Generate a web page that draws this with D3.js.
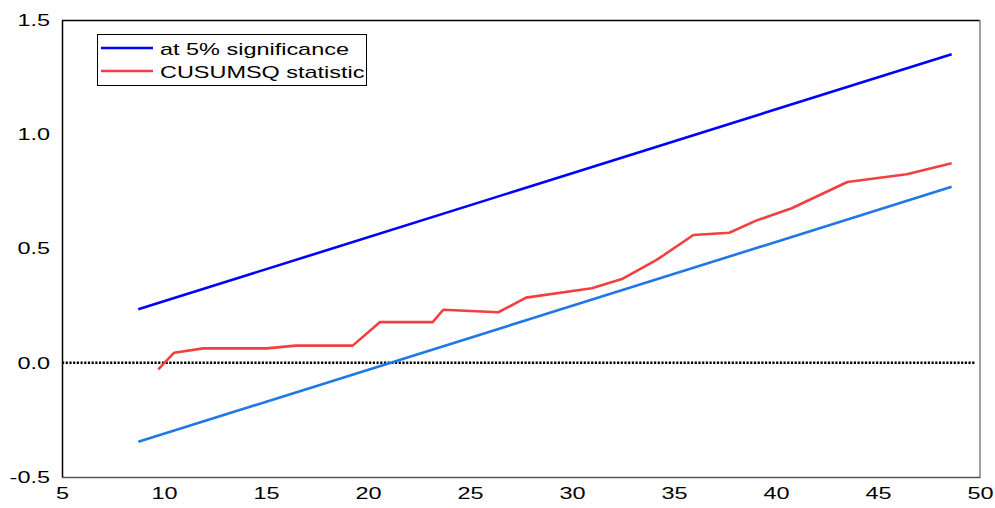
<!DOCTYPE html>
<html><head><meta charset="utf-8">
<script src="https://cdn.jsdelivr.net/npm/d3@7"></script>
<style>body{margin:0;background:#fff;}svg{display:block;}</style>
</head><body>
<svg id="c" width="995" height="508"></svg>
<script>
const xTicks = [5,10,15,20,25,30,35,40,45,50];
const yTicks = [-0.5,0.0,0.5,1.0,1.5];
const boundX = [8.74, 48.61];
const upperBound = [0.234, 1.350];
const lowerBound = [-0.346, 0.770];
const cusumX = [9.72,10.50,11.93,15.03,16.46,19.25,20.59,23.17,23.69,26.39,27.75,30.97,32.49,34.15,35.95,37.71,39.05,40.77,43.50,46.41,48.61];
const cusumY = [-0.029,0.044,0.063,0.063,0.075,0.075,0.178,0.178,0.232,0.221,0.285,0.326,0.368,0.450,0.559,0.569,0.623,0.676,0.791,0.825,0.873];
const legendLabels = ["at 5% significance","CUSUMSQ statistic"];

const svg = d3.select("#c");
const L=62,R=980,T=20,B=477;
const x = d3.scaleLinear().domain([5,50]).range([L,R]);
const y = d3.scaleLinear().domain([-0.5,1.5]).range([B,T]);
const font = "'Liberation Sans', Arial, sans-serif";
const FS = 17, SX = 1.38, LW = 2.6;

// frame
svg.append("line").attr("x1",L).attr("x2",R).attr("y1",T+0.5).attr("y2",T+0.5).attr("stroke","#000").attr("stroke-width",1.5);
svg.append("line").attr("x1",R).attr("x2",R).attr("y1",T).attr("y2",B).attr("stroke","#808080").attr("stroke-width",1.5);

// axes (no tick marks)
const xa = svg.append("g").attr("transform",`translate(0,${B})`)
  .call(d3.axisBottom(x).tickValues(xTicks).tickFormat(d3.format("d")).tickSize(0).tickPadding(10));
xa.select(".domain").attr("stroke","#555").attr("stroke-width",1.5);
xa.selectAll("text").attr("font-family",font).attr("font-size",FS).attr("fill","#000")
  .attr("transform",`scale(${SX},1)`);
const ya = svg.append("g").attr("transform",`translate(${L},0)`)
  .call(d3.axisLeft(y).tickValues(yTicks).tickFormat(d=>d3.format(".1f")(d).replace("\u2212","-")).tickSize(0).tickPadding(12));
ya.select(".domain").attr("stroke","#000").attr("stroke-width",1.5);
ya.selectAll("text").attr("font-family",font).attr("font-size",FS).attr("fill","#000")
  .attr("x",0).attr("transform",`translate(-12,0) scale(${SX},1)`);

// zero line
svg.append("line").attr("x1",L).attr("x2",R-5).attr("y1",y(0)).attr("y2",y(0))
  .attr("stroke","#000").attr("stroke-width",2.5).attr("stroke-dasharray","2.2,1.5");

const line = d3.line().x(d=>x(d[0])).y(d=>y(d[1]));
svg.append("path").datum(boundX.map((v,i)=>[v,upperBound[i]])).attr("d",line)
  .attr("fill","none").attr("stroke","#0000ff").attr("stroke-width",LW);
svg.append("path").datum(boundX.map((v,i)=>[v,lowerBound[i]])).attr("d",line)
  .attr("fill","none").attr("stroke","#1f78e6").attr("stroke-width",LW);
svg.append("path").datum(cusumX.map((v,i)=>[v,cusumY[i]])).attr("d",line)
  .attr("fill","none").attr("stroke","#f04040").attr("stroke-width",LW).attr("stroke-linejoin","round");

// legend
const lg = svg.append("g");
lg.append("rect").attr("x",97.5).attr("y",34.5).attr("width",269).attr("height",51)
  .attr("fill","#fff").attr("stroke","#000").attr("stroke-width",1);
const lcol = ["#0000ff","#f04040"];
legendLabels.forEach((t,i)=>{
  const yy = 48 + i*23;
  lg.append("line").attr("x1",101).attr("x2",153).attr("y1",yy).attr("y2",yy).attr("stroke",lcol[i]).attr("stroke-width",LW);
  lg.append("text").attr("x",0).attr("y",yy+7).text(t).attr("font-family",font).attr("font-size",FS).attr("fill","#000")
    .attr("transform",`translate(160,0) scale(${SX},1)`);
});
</script>
</body></html>
